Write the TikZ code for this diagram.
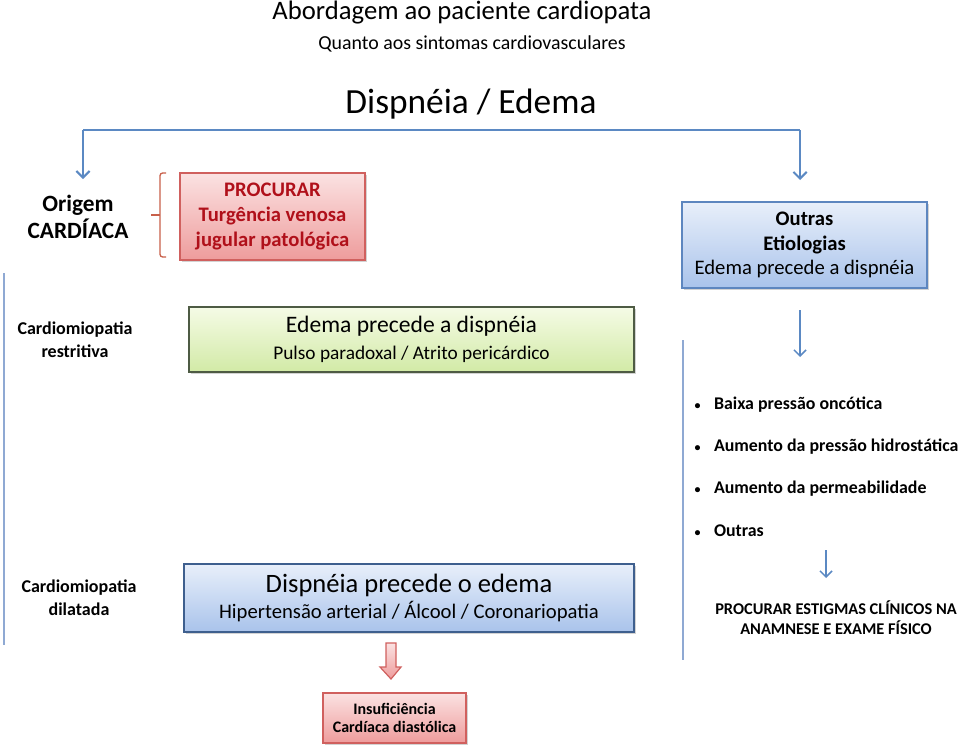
\documentclass[tikz,border=0pt]{standalone}
\usepackage{fontspec}
\setmainfont{Carlito}
\usetikzlibrary{arrows.meta, positioning, shadows}

\definecolor{azulSeta}{HTML}{5B89C3}
\definecolor{azulLinha}{HTML}{8FA9D3}
\definecolor{vermTexto}{HTML}{B0101A}
\definecolor{bordaVerm}{HTML}{D0605E}
\definecolor{vermClaro}{HTML}{FBE2E2}
\definecolor{vermEscuro}{HTML}{EE9C9C}
\definecolor{verdeClaro}{HTML}{F5FBE6}
\definecolor{verdeEscuro}{HTML}{D2EAA6}
\definecolor{bordaVerde}{HTML}{4E5B44}
\definecolor{azulClaro}{HTML}{E8EFFA}
\definecolor{azulEscuro}{HTML}{A9C3EB}
\definecolor{bordaAzul}{HTML}{5D86BF}
\definecolor{bordaAzulEsc}{HTML}{3E5F8E}
\definecolor{chave}{HTML}{C8604A}

\tikzset{
  caixa/.style={draw, line width=0.8pt, align=center, inner sep=2pt,
    drop shadow={shadow xshift=1.6pt, shadow yshift=-1.6pt, opacity=0.35}},
  caixaVerm/.style={caixa, draw=bordaVerm, top color=vermClaro, bottom color=vermEscuro},
  caixaVerde/.style={caixa, draw=bordaVerde, top color=verdeClaro, bottom color=verdeEscuro},
  caixaAzul/.style={caixa, draw=bordaAzul, top color=azulClaro, bottom color=azulEscuro},
  seta/.style={azulSeta, line width=1.5pt, -{Straight Barb[length=5pt,width=10pt]}},
  setaFina/.style={azulSeta, line width=1.1pt, -{Straight Barb[length=4.5pt,width=9pt]}},
  linha/.style={azulLinha, line width=1pt},
  rotulo/.style={align=center, font=\fontsize{13.5pt}{17.5pt}\selectfont\bfseries},
  item/.style={anchor=west, font=\fontsize{13.4pt}{15pt}\selectfont\bfseries},
}
\newcommand{\marca}{{\fontsize{9pt}{9pt}\selectfont\textbullet}\hspace{10pt}}

\begin{document}
\begin{tikzpicture}[x=0.75pt, y=-0.75pt]
  \useasboundingbox (0,0) rectangle (960,750);
  % Titles
  \node (titulo) at (462,13) {\fontsize{20pt}{24pt}\selectfont Abordagem ao paciente cardiopata};
  \node (subtitulo) at (472,44) {\fontsize{14.9pt}{17pt}\selectfont Quanto aos sintomas cardiovasculares};
  \node (sintoma) at (471,104) {\fontsize{26.5pt}{30pt}\selectfont Dispnéia / Edema};
  % Branches
  \coordinate (ramoE) at (83,130);
  \coordinate (ramoD) at (800,130);
  \coordinate (fimE) at (83,179);
  \coordinate (fimD) at (800,180);
  \draw[azulSeta, line width=1.5pt] (ramoE) -- (ramoD);
  \draw[seta] (ramoE) -- (fimE);
  \draw[seta] (ramoD) -- (fimD);
  % Cardiac origin
  \node[align=center, font=\fontsize{17.5pt}{20.5pt}\selectfont\bfseries] (origem) at (78,217) {Origem\\CARDÍACA};
  \draw[chave, line width=1pt, rounded corners=2pt] (166,173) -- (160,173) -- (160,257) -- (166,257);
  \draw[chave, line width=1pt] (160,215) -- (151,215);
  \node[caixaVerm, minimum width=138.75pt, minimum height=65.25pt, text=vermTexto,
    font=\fontsize{15.5pt}{18.5pt}\selectfont\bfseries] (procurar) at (272.5,216.5)
    {PROCURAR\\Turgência venosa\\jugular patológica};
  % Other etiologies
  \node[caixaAzul, minimum width=183.75pt, minimum height=64.5pt,
    font=\fontsize{15.5pt}{18.5pt}\selectfont] (outras) at (804.5,245)
    {\textbf{Outras}\\\textbf{Etiologias}\\Edema precede a dispnéia};
  % Left column
  \draw[linha] (4,273) -- (4,645);
  \node[rotulo] (restritiva) at (75,340) {Cardiomiopatia\\restritiva};
  \node[caixaVerde, minimum width=333.75pt, minimum height=48.75pt,
    font=\fontsize{14.5pt}{20pt}\selectfont] (edema) at (411.5,339.5)
    {{\fontsize{17.7pt}{20pt}\selectfont Edema precede a dispnéia}\\Pulso paradoxal / Atrito pericárdico};
  \node[rotulo] (dilatada) at (79,598) {Cardiomiopatia\\dilatada};
  \node[caixaAzul, draw=bordaAzulEsc, minimum width=337.5pt, minimum height=51pt,
    font=\fontsize{15.5pt}{20pt}\selectfont] (dispneia) at (409,598)
    {{\fontsize{19.9pt}{20pt}\selectfont Dispnéia precede o edema}\\Hipertensão arterial / Álcool / Coronariopatia};
  % Block arrow
  \draw[bordaVerm, line width=0.9pt, top color=vermClaro, bottom color=vermEscuro]
    (386,643) -- (396,643) -- (396,667) -- (401,667) -- (391,679) -- (380,667) -- (386,667) -- cycle;
  \node[caixaVerm, minimum width=107.25pt, minimum height=37.5pt,
    font=\fontsize{12pt}{14pt}\selectfont\bfseries] (icd) at (394.5,718)
    {Insuficiência\\Cardíaca diastólica};
  % Right column
  \coordinate (saiOutras) at (800,310);
  \coordinate (chegaLista) at (800,357);
  \draw[setaFina] (saiOutras) -- (chegaLista);
  \draw[linha] (683,340) -- (683,660);
  \node[item] (b1) at (690,405) {\marca Baixa pressão oncótica};
  \node[item] (b2) at (690,447) {\marca Aumento da pressão hidrostática};
  \node[item] (b3) at (690,489) {\marca Aumento da permeabilidade};
  \node[item] (b4) at (690,531) {\marca Outras};
  \coordinate (saiLista) at (826,550);
  \coordinate (chegaEstigmas) at (826,578);
  \draw[setaFina] (saiLista) -- (chegaEstigmas);
  \node[align=center, font=\fontsize{12.3pt}{15pt}\selectfont\bfseries] (estigmas) at (836,618)
    {PROCURAR ESTIGMAS CLÍNICOS NA\\ANAMNESE E EXAME FÍSICO};
\end{tikzpicture}
\end{document}
